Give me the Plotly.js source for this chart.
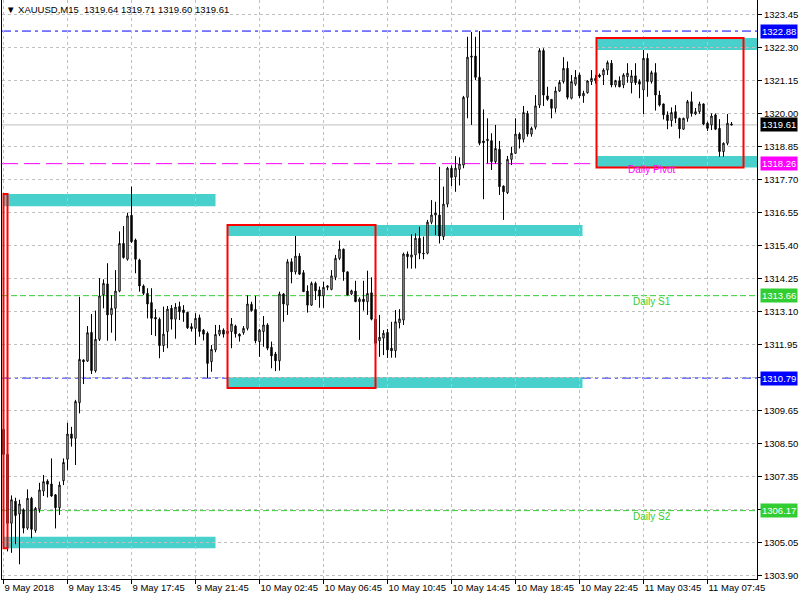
<!DOCTYPE html>
<html><head><meta charset="utf-8">
<script src="https://cdn.plot.ly/plotly-3.0.1.min.js"></script>
<style>html,body{margin:0;padding:0;background:#fff}#chart{width:800px;height:600px}</style>
</head><body><div id="chart"></div>
<script>
const symbol = 'XAUUSD,M15';
const open = [
1309.0, 1308.13, 1305.73, 1306.5, 1306.05, 1306.2, 1305.56, 1306.6, 1305.48, 1306.22,
1306.85, 1307.2, 1307.1, 1306.72, 1306.27, 1307.21, 1307.96, 1308.84, 1308.69, 1309.93,
1311.42, 1311.38, 1312.38, 1311.04, 1312.14, 1313.69, 1314.07, 1313.0, 1313.22, 1313.82,
1315.48, 1314.93, 1316.46, 1315.6, 1314.9, 1314.0, 1313.74, 1313.42, 1312.9, 1312.84,
1311.92, 1312.41, 1313.22, 1312.84, 1313.28, 1313.16, 1313.08, 1312.58, 1312.52, 1312.89,
1312.46, 1312.35, 1311.36, 1311.77, 1312.32, 1312.46, 1312.34, 1312.41, 1312.6, 1312.32,
1312.37, 1312.52, 1313.36, 1313.18, 1312.06, 1312.41, 1312.64, 1311.86, 1311.63, 1311.39,
1313.72, 1313.33, 1314.84, 1314.49, 1315.04, 1314.46, 1313.82, 1313.33, 1314.09, 1313.86,
1313.65, 1313.95, 1313.88, 1314.3, 1314.96, 1315.28, 1314.49, 1313.72, 1313.82, 1313.45,
1313.54, 1313.45, 1313.76, 1312.84, 1312.09, 1312.18, 1312.38, 1311.83, 1311.74, 1312.72,
1312.81, 1315.11, 1315.0, 1315.08, 1315.66, 1315.14, 1315.14, 1316.22, 1316.47, 1316.47,
1315.72, 1316.85, 1318.1, 1317.8, 1318.06, 1318.21, 1320.57, 1321.97, 1322.01, 1321.27,
1319.05, 1319.06, 1319.06, 1318.33, 1318.76, 1317.48, 1317.25, 1318.41, 1318.62, 1319.29,
1319.11, 1320.01, 1319.29, 1319.53, 1320.3, 1322.2, 1320.62, 1320.5, 1320.19, 1320.79,
1321.12, 1321.58, 1320.54, 1321.03, 1321.35, 1320.62, 1320.73, 1321.12, 1321.23, 1321.35,
1321.35, 1321.52, 1321.76, 1321.0, 1321.15, 1321.0, 1321.29, 1321.08, 1321.32, 1321.12,
1320.83, 1321.93, 1321.12, 1321.43, 1320.65, 1320.34, 1319.96, 1319.76, 1320.07, 1319.84,
1319.46, 1319.84, 1320.42, 1319.99, 1320.07, 1320.34, 1319.67, 1319.61, 1319.96, 1319.49,
1318.68, 1318.97, 1319.64
];
const high = [
1309.1, 1308.2, 1306.7, 1306.62, 1306.55, 1306.25, 1306.91, 1306.65, 1306.3, 1307.14,
1307.41, 1307.26, 1307.99, 1306.75, 1307.18, 1307.99, 1309.23, 1309.09, 1310.03, 1313.62,
1311.44, 1312.6, 1313.02, 1313.14, 1314.27, 1314.23, 1314.79, 1313.68, 1314.55, 1315.9,
1316.09, 1316.55, 1317.46, 1315.65, 1314.95, 1314.05, 1313.92, 1313.92, 1313.19, 1312.9,
1313.28, 1313.3, 1313.33, 1313.4, 1313.45, 1313.33, 1313.1, 1312.7, 1313.05, 1313.0,
1312.5, 1312.41, 1311.94, 1312.64, 1312.64, 1312.52, 1312.45, 1312.88, 1312.65, 1312.35,
1312.6, 1313.67, 1313.45, 1313.65, 1312.5, 1312.95, 1312.7, 1312.06, 1311.7, 1313.8,
1313.75, 1314.93, 1314.96, 1315.74, 1315.14, 1314.55, 1314.02, 1314.15, 1314.15, 1313.98,
1314.15, 1314.02, 1314.55, 1315.08, 1315.58, 1315.3, 1314.5, 1313.87, 1314.18, 1313.6,
1314.18, 1314.53, 1314.3, 1312.99, 1312.99, 1312.46, 1312.5, 1312.75, 1313.16, 1313.19,
1315.16, 1315.2, 1315.8, 1315.83, 1316.06, 1315.72, 1316.3, 1316.99, 1316.93, 1318.15,
1317.46, 1318.15, 1318.2, 1318.52, 1318.48, 1320.62, 1322.68, 1322.85, 1322.68, 1322.88,
1320.15, 1319.84, 1319.32, 1319.61, 1319.05, 1317.5, 1318.53, 1318.85, 1319.84, 1319.35,
1320.27, 1320.1, 1319.55, 1320.65, 1322.28, 1322.28, 1320.94, 1320.5, 1320.94, 1321.17,
1321.97, 1321.82, 1321.35, 1321.52, 1321.43, 1320.8, 1321.17, 1321.52, 1321.35, 1321.4,
1321.58, 1321.85, 1321.87, 1321.18, 1321.3, 1321.41, 1321.76, 1321.52, 1321.76, 1321.2,
1322.22, 1322.1, 1321.5, 1321.76, 1320.8, 1320.35, 1320.08, 1320.22, 1320.3, 1319.86,
1319.86, 1320.48, 1320.77, 1320.2, 1320.42, 1320.36, 1319.72, 1320.01, 1320.01, 1319.81,
1319.0, 1319.99, 1319.71
];
const low = [
1308.0, 1304.75, 1304.7, 1305.0, 1304.3, 1305.38, 1305.5, 1305.21, 1305.4, 1306.1,
1306.68, 1306.63, 1306.65, 1305.55, 1306.02, 1307.06, 1307.58, 1308.4, 1307.76, 1309.56,
1310.58, 1311.35, 1310.93, 1310.98, 1312.08, 1313.22, 1312.09, 1312.37, 1312.09, 1313.78,
1314.95, 1314.88, 1315.5, 1314.44, 1313.8, 1313.68, 1312.87, 1312.29, 1312.25, 1311.48,
1311.7, 1311.83, 1312.48, 1312.16, 1312.81, 1312.75, 1312.5, 1312.41, 1311.95, 1312.23,
1312.1, 1310.79, 1311.01, 1311.69, 1312.25, 1312.2, 1312.28, 1311.83, 1312.2, 1312.06,
1312.3, 1312.45, 1313.1, 1312.0, 1311.53, 1311.88, 1311.76, 1311.13, 1311.03, 1311.05,
1312.75, 1312.99, 1314.09, 1314.4, 1314.38, 1313.8, 1313.07, 1313.3, 1313.51, 1313.24,
1313.24, 1313.85, 1313.85, 1314.2, 1314.9, 1314.18, 1313.68, 1313.68, 1313.45, 1312.12,
1313.14, 1312.99, 1312.8, 1311.42, 1311.53, 1311.59, 1311.49, 1311.5, 1311.5, 1312.52,
1312.64, 1314.61, 1314.6, 1314.61, 1314.93, 1314.93, 1315.1, 1316.15, 1315.77, 1315.48,
1315.6, 1316.74, 1317.48, 1317.28, 1317.5, 1318.1, 1319.84, 1319.61, 1321.17, 1318.9,
1317.02, 1318.27, 1318.04, 1318.25, 1317.17, 1316.3, 1317.2, 1318.21, 1318.6, 1318.79,
1319.0, 1319.2, 1319.2, 1319.45, 1320.2, 1320.27, 1320.45, 1319.84, 1320.04, 1320.76,
1321.05, 1320.5, 1320.5, 1320.97, 1320.55, 1320.38, 1320.7, 1321.0, 1321.05, 1321.25,
1321.0, 1321.35, 1320.92, 1320.92, 1320.92, 1320.89, 1321.08, 1320.71, 1321.0, 1320.54,
1319.99, 1320.59, 1321.05, 1320.11, 1320.25, 1319.8, 1319.46, 1319.55, 1319.67, 1319.14,
1319.44, 1319.72, 1319.9, 1319.95, 1320.0, 1319.6, 1319.4, 1319.43, 1319.43, 1318.5,
1318.5, 1318.9, 1319.6
];
const close = [
1308.13, 1305.73, 1306.55, 1306.0, 1306.4, 1305.56, 1306.6, 1305.52, 1306.25, 1306.89,
1307.18, 1307.09, 1306.68, 1306.27, 1307.06, 1307.85, 1308.84, 1308.69, 1309.97, 1311.44,
1311.36, 1312.37, 1311.05, 1312.14, 1313.65, 1314.09, 1312.99, 1313.22, 1313.82, 1315.48,
1314.99, 1316.44, 1315.54, 1314.93, 1314.0, 1313.74, 1313.37, 1312.87, 1312.85, 1311.92,
1312.32, 1313.19, 1312.84, 1313.26, 1313.1, 1313.07, 1312.54, 1312.51, 1312.87, 1312.41,
1312.32, 1311.3, 1311.79, 1312.31, 1312.46, 1312.32, 1312.42, 1312.67, 1312.33, 1312.25,
1312.52, 1313.37, 1313.14, 1312.09, 1312.46, 1312.64, 1311.83, 1311.56, 1311.39, 1313.72,
1313.37, 1314.84, 1314.49, 1315.04, 1314.41, 1313.8, 1313.33, 1314.09, 1313.83, 1313.65,
1313.95, 1314.0, 1314.35, 1314.96, 1315.28, 1314.49, 1313.68, 1313.83, 1313.45, 1313.54,
1313.45, 1313.74, 1312.84, 1312.0, 1312.21, 1312.35, 1311.77, 1311.74, 1312.75, 1312.85,
1315.11, 1315.02, 1315.08, 1315.66, 1315.14, 1315.12, 1316.22, 1316.47, 1316.54, 1315.74,
1316.85, 1318.1, 1317.78, 1318.1, 1318.25, 1320.57, 1321.97, 1322.01, 1321.27, 1318.97,
1318.99, 1319.11, 1318.33, 1318.79, 1317.46, 1317.28, 1318.41, 1318.62, 1319.29, 1319.11,
1320.04, 1319.29, 1319.49, 1320.27, 1322.2, 1320.65, 1320.5, 1320.19, 1320.79, 1321.09,
1321.58, 1320.57, 1321.12, 1321.27, 1320.62, 1320.71, 1321.14, 1321.23, 1321.15, 1321.29,
1321.52, 1321.78, 1321.0, 1321.15, 1320.94, 1321.35, 1321.41, 1321.32, 1321.08, 1321.03,
1321.93, 1321.12, 1321.43, 1320.65, 1320.3, 1319.96, 1319.76, 1320.04, 1319.84, 1319.47,
1319.84, 1320.42, 1320.01, 1320.07, 1320.34, 1319.64, 1319.49, 1319.92, 1319.46, 1318.68,
1318.97, 1319.67, 1319.61
];
const xTickLabels = ['9 May 2018', '9 May 13:45', '9 May 17:45', '9 May 21:45', '10 May 02:45', '10 May 06:45',
  '10 May 10:45', '10 May 14:45', '10 May 18:45', '10 May 22:45', '11 May 03:45', '11 May 07:45'];
const barsPerLabel = 16;
const yTicks = [1303.90, 1305.05, 1306.20, 1307.35, 1308.50, 1309.65, 1310.80, 1311.95, 1313.10,
  1314.25, 1315.40, 1316.55, 1317.70, 1318.85, 1320.00, 1321.15, 1322.30, 1323.45];
const yRange = [1303.788, 1323.962];
const xRange = [-0.375, 188.375];

// horizontal level lines
const levelValues = [1322.88, 1318.26, 1313.66, 1310.79, 1306.17];
const levelColors = ['#0000ff', '#ff00ff', '#32cd32', '#0000ff', '#32cd32'];
const levelDash = ['9px,4px,3px,4px', '16px,6px', '6px,3px', '9px,4px,3px,4px', '6px,3px'];
const levelLabels = ['', 'Daily Pivot', 'Daily S1', '', 'Daily S2'];
const levelLabelBar = 162;

// supply / demand zones (bar index, price)
const zoneStart = [0, 56, 148.25];
const boxEnd = [1, 93, 185];
const bandEnd = [53, 144.75, 188.375];
const zoneTop = [1317.20, 1316.12, 1322.64];
const zoneTopInner = [1316.78, 1315.74, 1322.22];
const zoneBottomInner = [1305.26, 1310.83, 1318.53];
const zoneBottom = [1304.86, 1310.44, 1318.13];

const bars = open.map((_, i) => i);
const last = open.length - 1;
const FONT = 'Liberation Sans, Arial, sans-serif';
const fmt = v => v.toFixed(2);

const shapes = [];
zoneStart.forEach((s, k) => {
  shapes.push({type: 'rect', xref: 'x', yref: 'y', x0: s, x1: bandEnd[k], y0: zoneTopInner[k], y1: zoneTop[k],
    fillcolor: '#48d1cc', line: {width: 0}, layer: 'below'});
  shapes.push({type: 'rect', xref: 'x', yref: 'y', x0: s, x1: bandEnd[k], y0: zoneBottom[k], y1: zoneBottomInner[k],
    fillcolor: '#48d1cc', line: {width: 0}, layer: 'below'});
});
levelValues.forEach((v, k) => {
  shapes.push({type: 'line', xref: 'paper', yref: 'y', x0: 0, x1: 1, y0: v, y1: v,
    line: {color: levelColors[k], width: 1, dash: levelDash[k]}, layer: 'between'});
});
shapes.push({type: 'line', xref: 'paper', yref: 'y', x0: 0, x1: 1, y0: close[last], y1: close[last],
  line: {color: '#c0c0c0', width: 1}, layer: 'between'});
zoneStart.forEach((s, k) => {
  shapes.push({type: 'rect', xref: 'x', yref: 'y', x0: s, x1: boxEnd[k], y0: zoneBottom[k], y1: zoneTop[k],
    fillcolor: 'rgba(0,0,0,0)', line: {color: '#ff0000', width: 2}, layer: 'above'});
});

const annotations = [];
annotations.push({xref: 'paper', yref: 'paper', x: 0, y: 1, xanchor: 'left', yanchor: 'top', xshift: 2, yshift: -2,
  showarrow: false, font: {family: FONT, size: 9.5, color: '#000'},
  text: '▼ ' + symbol + '\u00a0\u00a0' + [open[last], high[last], low[last], close[last]].map(fmt).join(' ')});
levelValues.forEach((v, k) => {
  annotations.push({xref: 'paper', yref: 'y', x: 1, y: v, xanchor: 'left', yanchor: 'middle', xshift: 3,
    showarrow: false, text: fmt(v), bgcolor: levelColors[k], borderpad: 1,
    font: {family: FONT, size: 9.5, color: '#fff'}});
  if (levelLabels[k]) {
    annotations.push({xref: 'x', yref: 'y', x: levelLabelBar, y: v, xanchor: 'center', yanchor: 'middle', yshift: -6,
      showarrow: false, text: levelLabels[k], font: {family: FONT, size: 10, color: levelColors[k]}});
  }
});
annotations.push({xref: 'paper', yref: 'y', x: 1, y: close[last], xanchor: 'left', yanchor: 'middle', xshift: 3,
  showarrow: false, text: fmt(close[last]), bgcolor: '#000', borderpad: 1,
  font: {family: FONT, size: 9.5, color: '#fff'}});

// tick labels hidden under a price tag in the reference
const tagValues = levelValues.concat([close[last]]);
const yTickText = yTicks.map(v => tagValues.some(t => Math.abs(t - v) < 0.3) ? '' : fmt(v));

const trace = {
  type: 'candlestick', x: bars, open, high, low, close,
  increasing: {line: {color: '#000', width: 1}, fillcolor: '#ffffff'},
  decreasing: {line: {color: '#000', width: 1}, fillcolor: '#000000'},
  whiskerwidth: 0, hoverinfo: 'skip', showlegend: false
};

const layout = {
  width: 800, height: 600,
  margin: {l: 2, r: 43, t: 0, b: 21, pad: 0},
  paper_bgcolor: '#fff', plot_bgcolor: '#fff',
  font: {family: FONT, size: 9.5, color: '#000'},
  showlegend: false,
  boxgap: 0.5,
  xaxis: {
    range: xRange, tickvals: xTickLabels.map((_, k) => k * barsPerLabel), ticktext: xTickLabels,
    ticks: 'outside', ticklen: 4, tickcolor: '#000', tickwidth: 1, tickangle: 0,
    ticklabelposition: 'outside right',
    showline: true, linecolor: '#000', linewidth: 1, mirror: false,
    showgrid: true, gridcolor: '#c0c0c0', griddash: '3px,3px', gridwidth: 1,
    zeroline: false, rangeslider: {visible: false}, fixedrange: true,
    tickfont: {family: FONT, size: 9.5, color: '#000'}
  },
  yaxis: {
    side: 'right', range: yRange, tickvals: yTicks, ticktext: yTickText,
    ticks: 'outside', ticklen: 4, tickcolor: '#000', tickwidth: 1,
    showline: true, linecolor: '#000', linewidth: 1, mirror: true,
    showgrid: true, gridcolor: '#c0c0c0', griddash: '3px,3px', gridwidth: 1,
    zeroline: false, fixedrange: true,
    tickfont: {family: FONT, size: 9.5, color: '#000'}
  },
  shapes, annotations
};

Plotly.newPlot('chart', [trace], layout, {staticPlot: true, displayModeBar: false});
</script>
</body></html>
